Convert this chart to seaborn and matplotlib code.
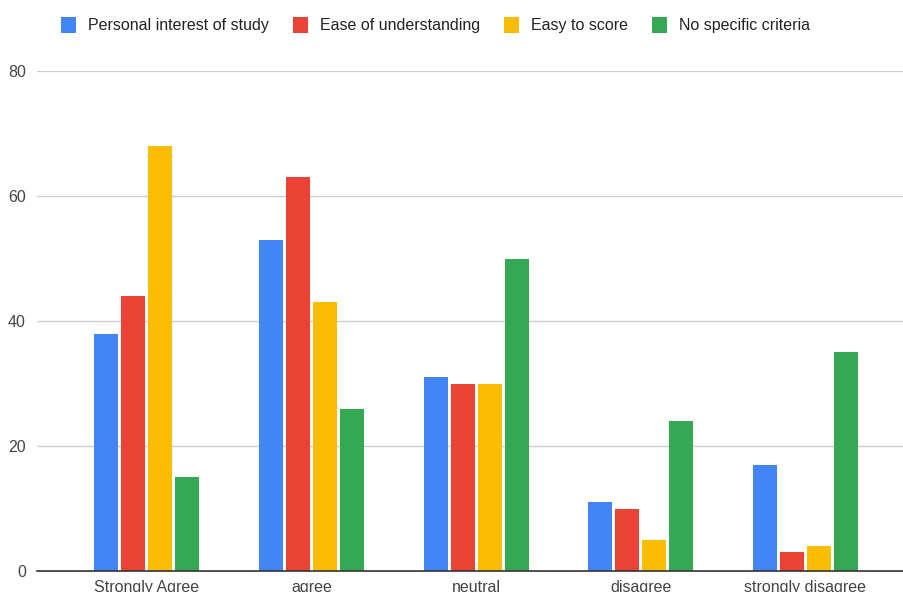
import matplotlib
matplotlib.use("Agg")
import matplotlib.pyplot as plt
import seaborn as sns
import pandas as pd
from matplotlib.patches import Patch

categories = ["Strongly Agree", "agree", "neutral", "disagree", "strongly disagree"]
series = ["Personal interest of study", "Ease of understanding", "Easy to score", "No specific criteria"]
personal_interest = [38, 53, 31, 11, 17]
ease_of_understanding = [44, 63, 30, 10, 3]
easy_to_score = [68, 43, 30, 5, 4]
no_specific_criteria = [15, 26, 50, 24, 35]
colors = ["#4285F4", "#EA4335", "#FBBC04", "#34A853"]

rows = []
for name, vals in zip(series, [personal_interest, ease_of_understanding, easy_to_score, no_specific_criteria]):
    for cat, v in zip(categories, vals):
        rows.append({"category": cat, "series": name, "value": v})
df = pd.DataFrame(rows)

sns.set_theme(style="white")
plt.rcParams["font.family"] = ["Liberation Sans", "DejaVu Sans"]

fig = plt.figure(figsize=(9.04, 5.92), dpi=100)
ax = fig.add_axes([37 / 904, (592 - 571) / 592, (904 - 37) / 904, 500 / 592])

sns.barplot(data=df, x="category", y="value", hue="series", order=categories,
            hue_order=series, palette=colors, width=0.656, gap=0.11,
            saturation=1, legend=False, ax=ax, linewidth=0)

ax.set_ylim(0, 80)
ax.set_xlim(-0.668, 4.6)
ax.set_yticks([0, 20, 40, 60, 80])
ax.yaxis.grid(True, color="#cccccc", linewidth=1)
ax.set_axisbelow(True)
for s in ["top", "right", "left"]:
    ax.spines[s].set_visible(False)
ax.spines["bottom"].set_color("#333333")
ax.spines["bottom"].set_linewidth(1.2)
ax.set_xlabel("")
ax.set_ylabel("")
ax.tick_params(axis="both", length=0, labelsize=11.5, colors="#444444")
ax.tick_params(axis="y", pad=8)
ax.tick_params(axis="x", pad=6.5)

handles = [Patch(facecolor=c, edgecolor="none") for c in colors]
fig.legend(handles, series, loc="upper center", bbox_to_anchor=(0.482, 0.995),
           ncol=4, frameon=False, fontsize=11.5, handlelength=0.95, handleheight=1.1,
           handletextpad=0.75, columnspacing=1.5, labelcolor="#222222")

fig.savefig("out.png", dpi=100)
